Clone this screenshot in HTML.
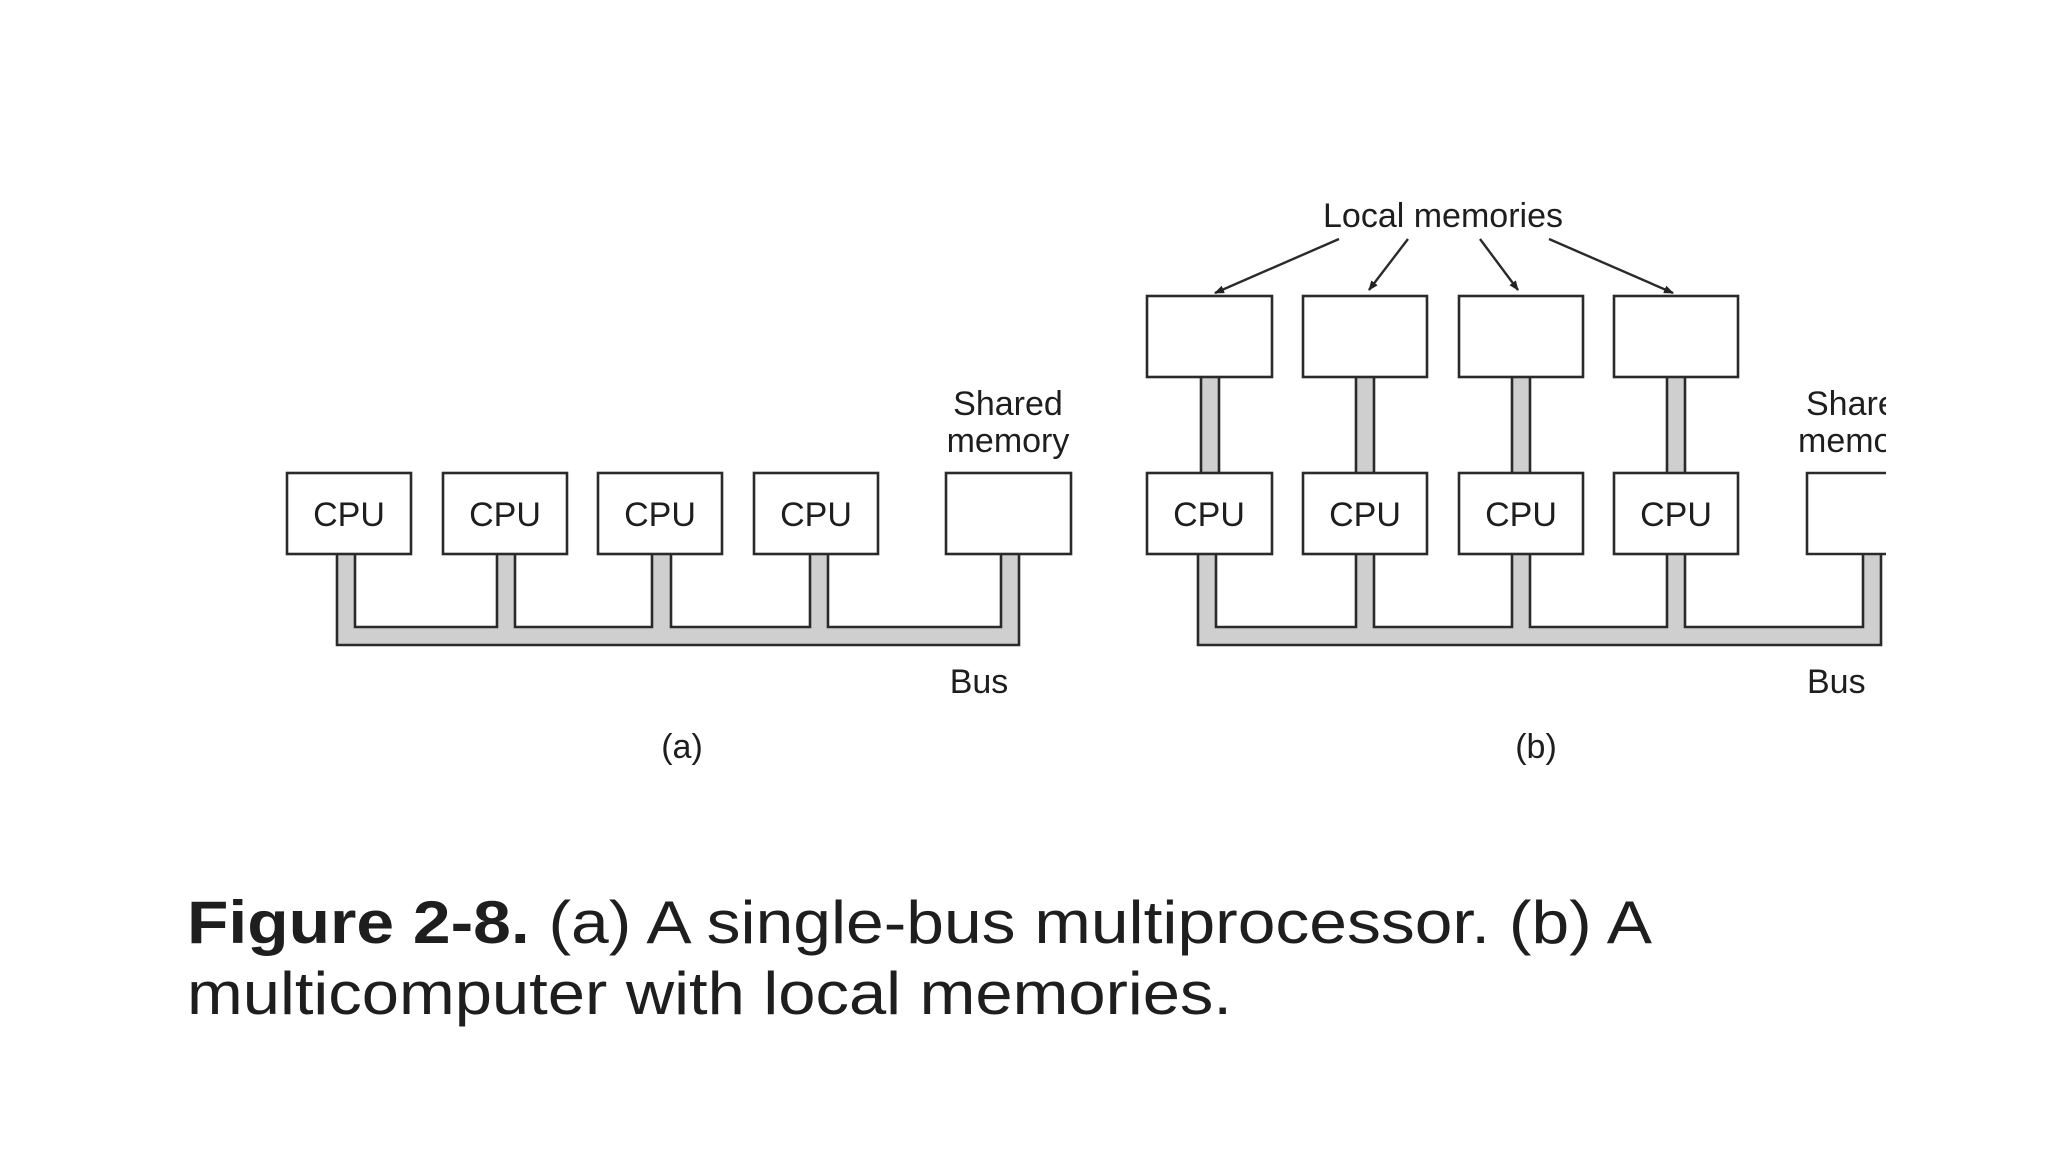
<!DOCTYPE html>
<html><head><meta charset="utf-8"><style>
html,body{margin:0;padding:0;background:#fff;}
svg{display:block;}
text{font-family:"Liberation Sans",Arial,sans-serif;fill:#1e1e1e;}
</style></head><body>
<svg width="2048" height="1152" viewBox="0 0 2048 1152" xmlns="http://www.w3.org/2000/svg">
<defs>
<marker id="ah" markerWidth="10" markerHeight="8" refX="9" refY="4" orient="auto" markerUnits="userSpaceOnUse" viewBox="0 0 10 8">
<path d="M0,0 L10,4 L0,8 z" fill="#222"/></marker>
<clipPath id="cl"><rect x="0" y="0" width="1886" height="1152"/></clipPath>
</defs>
<g stroke="#2a2a2a" stroke-width="2.6" fill="none">
<!-- (a) bus gray -->
<g fill="#cfcfcf" stroke="none">
<rect x="337" y="627" width="682" height="18"/>
<rect x="337" y="554" width="18" height="91"/>
<rect x="497" y="554" width="18" height="80"/>
<rect x="652" y="554" width="19" height="80"/>
<rect x="810" y="554" width="18" height="80"/>
<rect x="1001" y="554" width="18" height="91"/>
</g>
<path d="M337,554 V645 H1019 V554"/>
<path d="M355,554 V627 H497 V554 M515,554 V627 H652 V554 M671,554 V627 H810 V554 M828,554 V627 H1001 V554"/>
<g fill="#fff">
<rect x="287" y="473" width="124" height="81"/>
<rect x="443" y="473" width="124" height="81"/>
<rect x="598" y="473" width="124" height="81"/>
<rect x="754" y="473" width="124" height="81"/>
<rect x="946" y="473" width="125" height="81"/>
</g>
<!-- (b) -->
<g fill="#cfcfcf" stroke="none">
<rect x="1198" y="627" width="683" height="18"/>
<rect x="1198" y="554" width="18" height="91"/>
<rect x="1356" y="554" width="18" height="80"/>
<rect x="1512" y="554" width="18" height="80"/>
<rect x="1667" y="554" width="18" height="80"/>
<rect x="1863" y="554" width="18" height="91"/>
<rect x="1201" y="377" width="18" height="96"/>
<rect x="1356" y="377" width="18" height="96"/>
<rect x="1512" y="377" width="18" height="96"/>
<rect x="1667" y="377" width="18" height="96"/>
</g>
<path d="M1198,554 V645 H1881 V554"/>
<path d="M1216,554 V627 H1356 V554 M1374,554 V627 H1512 V554 M1530,554 V627 H1667 V554 M1685,554 V627 H1863 V554"/>
<path d="M1201,377 V473 M1219,377 V473 M1356,377 V473 M1374,377 V473 M1512,377 V473 M1530,377 V473 M1667,377 V473 M1685,377 V473"/>
<g fill="#fff">
<rect x="1147" y="296" width="125" height="81"/>
<rect x="1303" y="296" width="124" height="81"/>
<rect x="1459" y="296" width="124" height="81"/>
<rect x="1614" y="296" width="124" height="81"/>
<rect x="1147" y="473" width="125" height="81"/>
<rect x="1303" y="473" width="124" height="81"/>
<rect x="1459" y="473" width="124" height="81"/>
<rect x="1614" y="473" width="124" height="81"/>
</g>
<path d="M1886,473 H1807 V554 H1886"/>
<g stroke-width="2.4">
<line x1="1339" y1="239" x2="1215" y2="293" marker-end="url(#ah)"/>
<line x1="1408" y1="239" x2="1369" y2="290" marker-end="url(#ah)"/>
<line x1="1480" y1="239" x2="1518" y2="290" marker-end="url(#ah)"/>
<line x1="1549" y1="239" x2="1673" y2="293" marker-end="url(#ah)"/>
</g>
</g>
<g font-size="34" text-anchor="middle">
<text x="349" y="526">CPU</text>
<text x="505" y="526">CPU</text>
<text x="660" y="526">CPU</text>
<text x="816" y="526">CPU</text>
<text x="1209" y="526">CPU</text>
<text x="1365" y="526">CPU</text>
<text x="1521" y="526">CPU</text>
<text x="1676" y="526">CPU</text>
<text x="1008" y="415">Shared</text>
<text x="1008" y="452">memory</text>
<text x="979" y="693">Bus</text>
<text x="682" y="758">(a)</text>
<text x="1536" y="758">(b)</text>
<text x="1443" y="227">Local memories</text>
</g>
<g font-size="34" clip-path="url(#cl)">
<text x="1806" y="415">Shared</text>
<text x="1798" y="452">memory</text>
<text x="1807" y="693">Bus</text>
</g>
<text x="187" y="943" font-size="60" textLength="1465" lengthAdjust="spacingAndGlyphs"><tspan font-weight="bold">Figure 2-8.</tspan> (a) A single-bus multiprocessor. (b) A</text>
<text x="187" y="1014" font-size="60" textLength="1045" lengthAdjust="spacingAndGlyphs">multicomputer with local memories.</text>
</svg>
</body></html>
